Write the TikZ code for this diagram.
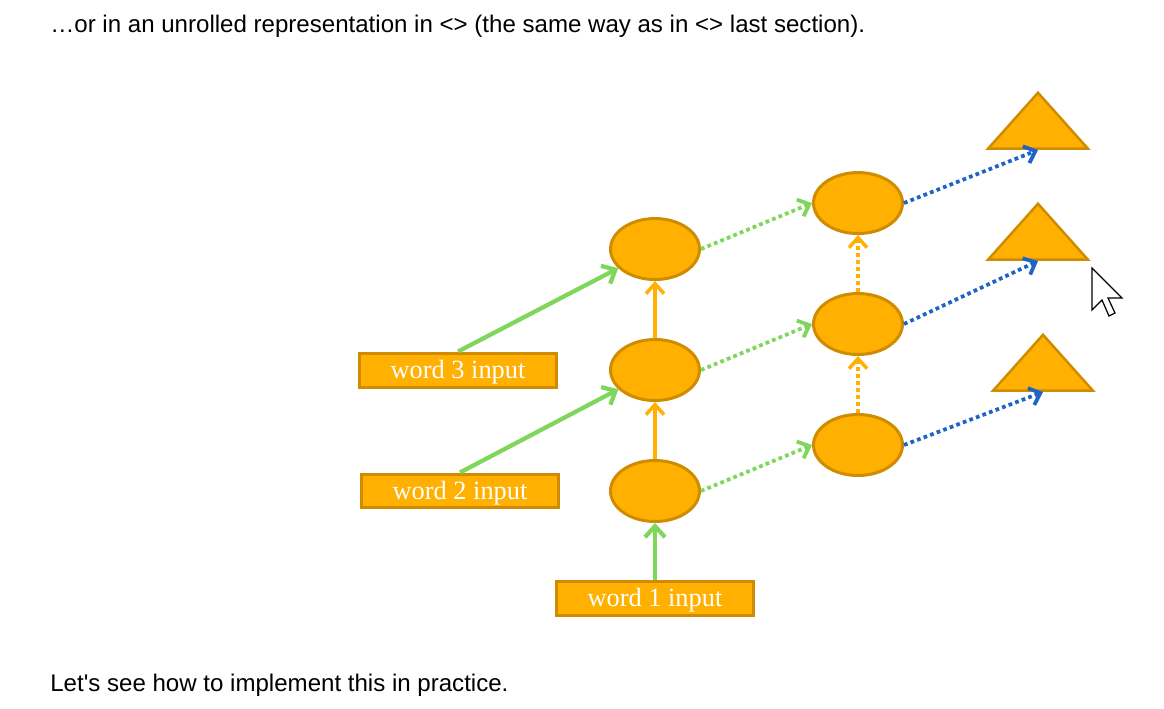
\documentclass[tikz,border=0pt]{standalone}
\usepackage{fontspec}
\setmainfont{Liberation Serif}
\newfontfamily\slidefont{Liberation Sans}
\usetikzlibrary{positioning, shapes.geometric, arrows.meta}

\definecolor{cellfill}{HTML}{FFB000}
\definecolor{celledge}{HTML}{CF8C00}
\definecolor{ingreen}{HTML}{7ED65A}
\definecolor{outblue}{HTML}{1E64C8}

\begin{document}
\begin{tikzpicture}[x=0.02cm, y=-0.02cm, node distance=1.14cm,
    cell/.style = {draw=celledge, fill=cellfill, ellipse, line width=0.06cm, minimum width=1.78cm, minimum height=1.22cm},
    wordbox/.style = {draw=celledge, fill=cellfill, line width=0.06cm, minimum width=3.94cm, minimum height=0.68cm, inner sep=0pt, text height=0.4cm, text depth=0.06cm, text=white, font=\fontsize{15}{18}\selectfont},
    outtri/.style = {draw=celledge, fill=cellfill, isosceles triangle, isosceles triangle stretches, shape border rotate=90, minimum width=2.0cm, minimum height=1.12cm, inner sep=0pt, line width=0.05cm},
    inarrow/.style = {draw=ingreen, line width=0.085cm, -{Straight Barb[length=0.22cm, width=0.4cm]}},
    uparrow/.style = {draw=cellfill, line width=0.07cm, -{Straight Barb[length=0.2cm, width=0.36cm]}},
    dots/.style = {dash pattern=on 0.075cm off 0.065cm},
    skiparrow/.style = {draw=ingreen, line width=0.075cm, dots, -{Straight Barb[length=0.2cm, width=0.36cm]}},
    outarrow/.style = {draw=outblue, line width=0.075cm, dots, -{Straight Barb[length=0.2cm, width=0.36cm]}},
    slidetext/.style = {anchor=base west, inner sep=0pt, font=\slidefont\fontsize{13.7}{16}\selectfont}]
    \fill[white] (0,0) rectangle (1164,709);
    \useasboundingbox (0,0) rectangle (1164,709);

    \node[slidetext] (intro) at (50,33) {…or in an unrolled representation in <> (the same way as in <> last section).};
    \node[slidetext] (outro) at (50,691) {Let\symbol{39}s see how to implement this in practice.};

    \node[cell] (h1) at (655,491) {};
    \node[cell] (h2) [above=of h1] {};
    \node[cell] (h3) [above=of h2] {};
    \node[cell] (g1) at (858,445) {};
    \node[cell] (g2) [above=of g1] {};
    \node[cell] (g3) [above=of g2] {};
    \node[wordbox] (w1) [below=of h1] {word 1 input};
    \node[wordbox] (w2) [left=0.98cm of h1] {word 2 input};
    \node[wordbox] (w3) [left=1.02cm of h2] {word 3 input};
    \node[outtri, anchor=lower side] (t1) at (1043,392) {};
    \node[outtri, anchor=lower side] (t2) at (1038,261) {};
    \node[outtri, anchor=lower side] (t3) at (1038,150) {};

    \draw[inarrow] (w1) -- (h1);
    \draw[inarrow] (w2.north) -- (h2);
    \draw[inarrow] (w3.north) -- (h3);
    \draw[uparrow] (h1) -- (h2);
    \draw[uparrow] (h2) -- (h3);
    \draw[uparrow, dots] (g1) -- (g2);
    \draw[uparrow, dots] (g2) -- (g3);
    \draw[skiparrow] (h1.east) -- (g1.west);
    \draw[skiparrow] (h2.east) -- (g2.west);
    \draw[skiparrow] (h3.east) -- (g3.west);
    \draw[outarrow] (g1.east) -- (t1.lower side);
    \draw[outarrow] (g2.east) -- (t2.lower side);
    \draw[outarrow] (g3.east) -- (t3.lower side);

    % mouse pointer
    \draw[fill=white, line width=0.7pt, line join=miter] (1092,268) -- ++(0,42) -- ++(10,-10) -- ++(7,16) -- ++(6,-3) -- ++(-7,-15) -- ++(14,0) -- cycle;
\end{tikzpicture}
\end{document}
